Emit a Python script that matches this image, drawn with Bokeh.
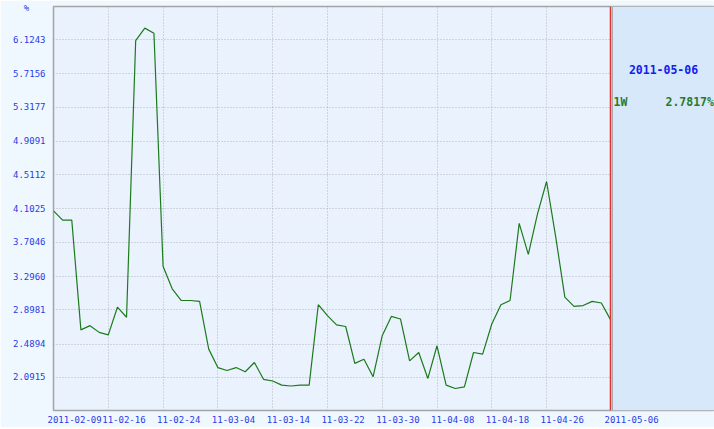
from bokeh.plotting import figure
from bokeh.models import (ColumnDataSource, FixedTicker, Range1d, BoxAnnotation, Span,
                          Label, NumeralTickFormatter)
from bokeh.embed import file_html
from bokeh.resources import INLINE

# ---- data -------------------------------------------------------------
dates = [
    "2011-02-09", "2011-02-10", "2011-02-11", "2011-02-12", "2011-02-14", "2011-02-15",
    "2011-02-16", "2011-02-17", "2011-02-18", "2011-02-21", "2011-02-22", "2011-02-23",
    "2011-02-24", "2011-02-25", "2011-02-28", "2011-03-01", "2011-03-02", "2011-03-03",
    "2011-03-04", "2011-03-07", "2011-03-08", "2011-03-09", "2011-03-10", "2011-03-11",
    "2011-03-14", "2011-03-15", "2011-03-16", "2011-03-17", "2011-03-18", "2011-03-21",
    "2011-03-22", "2011-03-23", "2011-03-24", "2011-03-25", "2011-03-28", "2011-03-29",
    "2011-03-30", "2011-03-31", "2011-04-01", "2011-04-02", "2011-04-06", "2011-04-07",
    "2011-04-08", "2011-04-11", "2011-04-12", "2011-04-13", "2011-04-14", "2011-04-15",
    "2011-04-18", "2011-04-19", "2011-04-20", "2011-04-21", "2011-04-22", "2011-04-25",
    "2011-04-26", "2011-04-27", "2011-04-28", "2011-04-29", "2011-05-03", "2011-05-04",
    "2011-05-05", "2011-05-06",
]
rate_1w = [
    4.08, 3.97, 3.97, 2.66, 2.71, 2.63, 2.60, 2.93, 2.81, 6.11,
    6.26, 6.20, 3.42, 3.15, 3.01, 3.01, 3.00, 2.43, 2.21, 2.175,
    2.21, 2.16, 2.27, 2.07, 2.05, 2.00, 1.99, 2.00, 2.00, 2.96,
    2.83, 2.72, 2.70, 2.26, 2.31, 2.10, 2.59, 2.82, 2.79, 2.29,
    2.39, 2.08, 2.47, 2.00, 1.96, 1.98, 2.39, 2.37, 2.73, 2.96,
    3.01, 3.93, 3.56, 4.04, 4.43, 3.77, 3.05, 2.94, 2.95, 3.00,
    2.98, 2.7817,
]
tick_dates = ["2011-02-09", "2011-02-16", "2011-02-24", "2011-03-04", "2011-03-14",
              "2011-03-22", "2011-03-30", "2011-04-08", "2011-04-18", "2011-04-26",
              "2011-05-06"]
tick_labels = ["2011-02-09", "11-02-16", "11-02-24", "11-03-04", "11-03-14",
               "11-03-22", "11-03-30", "11-04-08", "11-04-18", "11-04-26",
               "2011-05-06"]
y_ticks = [2.0915, 2.4894, 2.8981, 3.2960, 3.7046, 4.1025, 4.5112, 4.9091,
           5.3177, 5.7156, 6.1243]
unit_label = "%"
series_name = "1W"

# ---- layout -----------------------------------------------------------
W, H = 714, 427
ML, MB, MT = 53, 17, 6
x_start, x_end = 0, 72.39
y_start, y_end = 1.6977, 6.5181
px_per_unit = (W - ML) / (x_end - x_start)
font = "DejaVu Sans Mono"
char_w = 0.602 * 9
unit_pos = 6.506          # where the unit sign sits, at the top of the axis

idx = list(range(len(dates)))
src = ColumnDataSource(dict(x=idx, y=rate_1w))
last_i = len(dates) - 1

p = figure(width=W, height=H, output_backend="svg", toolbar_location=None,
           x_range=Range1d(x_start, x_end), y_range=Range1d(y_start, y_end),
           min_border_left=ML, min_border_right=0, min_border_top=MT,
           min_border_bottom=MB)
p.background_fill_color = "#EAF2FD"
p.border_fill_color = "#F0F8FF"
p.outline_line_color = "#A4A4A4"
p.outline_line_width = 1.5

# grids
tick_idx = [dates.index(d) for d in tick_dates]
p.xgrid.ticker = FixedTicker(ticks=tick_idx[:-1])
p.ygrid.ticker = FixedTicker(ticks=y_ticks)
for g in (p.xgrid, p.ygrid):
    g.grid_line_color = "#B4B4BC"
    g.grid_line_dash = "1 2"
    g.grid_line_width = 1

# x axis: labels left-anchored about 6px left of their date
label_pos = [t + (-6 + len(l) * char_w / 2) / px_per_unit for t, l in zip(tick_idx, tick_labels)]
p.xaxis.ticker = FixedTicker(ticks=label_pos)
p.xaxis.major_label_overrides = {pos: l for pos, l in zip(label_pos, tick_labels)}
p.yaxis.ticker = FixedTicker(ticks=y_ticks + [unit_pos])
p.yaxis.formatter = NumeralTickFormatter(format="0.0000")
p.yaxis.major_label_overrides = {unit_pos: unit_label + "\u00a0\u00a0\u00a0"}
for ax in (p.xaxis, p.yaxis):
    ax.axis_line_color = None
    ax.major_tick_line_color = None
    ax.minor_tick_line_color = None
    ax.major_tick_out = 0
    ax.major_tick_in = 0
    ax.major_label_text_font = font
    ax.major_label_text_font_size = "9px"
    ax.major_label_text_color = "#2A3BE6"
p.xaxis.major_label_standoff = 5
p.yaxis.major_label_standoff = 8

# right-hand info panel
p.add_layout(BoxAnnotation(left=last_i, fill_color="#D6E8FA", fill_alpha=1,
                           line_color=None))
p.add_layout(Span(location=last_i + 2 / px_per_unit, dimension="height",
                  line_color="#A8A8A8", line_width=1))
p.add_layout(Span(location=last_i, dimension="height", line_color="#E03030",
                  line_width=1.5))

p.line("x", "y", source=src, line_color="#1C7A1C", line_width=1.2)

p.add_layout(Label(x=last_i, x_offset=53, y=5.767, text=dates[-1], text_font=font,
                   text_font_size="11.5px", text_font_style="bold", text_color="#1020F0",
                   text_align="center", text_baseline="middle"))
p.add_layout(Label(x=last_i, x_offset=3, y=5.377, text=series_name, text_font=font,
                   text_font_size="11.5px", text_font_style="bold", text_color="#2A7A2A",
                   text_align="left", text_baseline="middle"))
p.add_layout(Label(x=last_i, x_offset=55, y=5.377, text=f"{rate_1w[-1]:.4f}%", text_font=font,
                   text_font_size="11.5px", text_font_style="bold", text_color="#2A7A2A",
                   text_align="left", text_baseline="middle"))

open("out.html", "w").write(file_html(p, INLINE))
